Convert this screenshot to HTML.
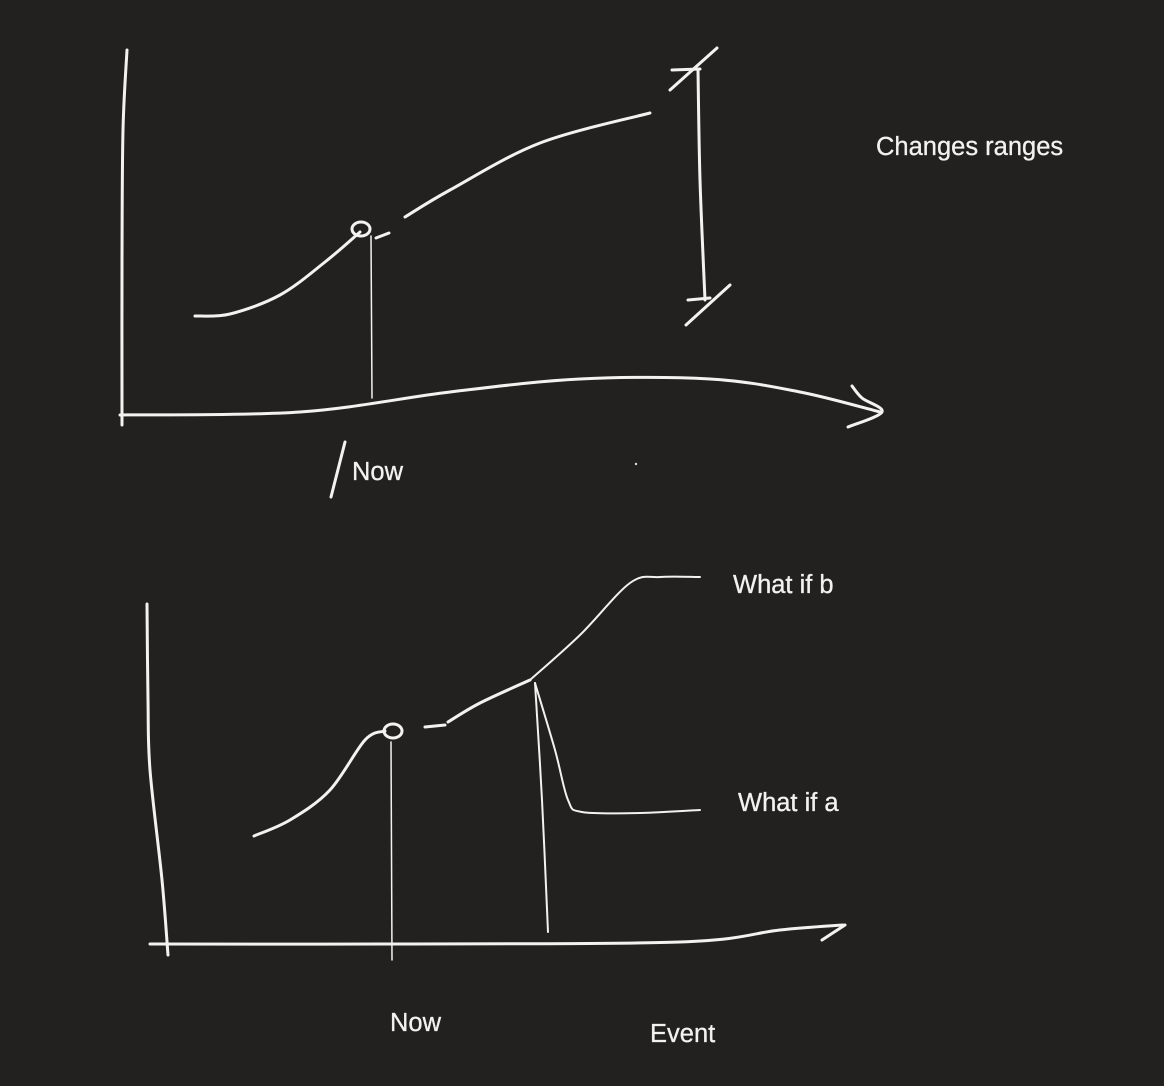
<!DOCTYPE html>
<html><head><meta charset="utf-8"><style>
html,body{margin:0;padding:0;background:#222120;}
svg{display:block;}
text{font-family:"Liberation Sans",sans-serif;font-size:25.5px;fill:#f2f2f2;stroke:#f2f2f2;stroke-width:0.3;}
</style></head><body>
<svg id="s" width="1164" height="1086" viewBox="0 0 1164 1086">
<rect width="1164" height="1086" fill="#222120"/>
<g id="g" fill="none" stroke="#f2f2f2" stroke-width="3" stroke-linecap="round" stroke-linejoin="round"></g>
<text x="876" y="155">Changes ranges</text>
<text x="352" y="480">Now</text>
<text x="733" y="593">What if b</text>
<text x="738" y="811">What if a</text>
<text x="390" y="1031">Now</text>
<text x="650" y="1042">Event</text>
<circle cx="636" cy="464" r="1.2" fill="#ddd"/>
</svg>
<script>
const topYAxis=[[127,50],[123,130],[122,260],[122,425]];
const topXAxis=[[120,415],[300,412],[450,392],[580,379],[710,379],[800,392],[880,412]];
const topArrow=[[852,386],[862,398],[882,412],[848,427]];
const topCurvePast=[[195,316],[230,314],[280,295],[325,262],[360,232]];
const topCurveFuture=[[405,217],[450,190],[540,143],[650,113]];
const topDash=[[376,238],[389,233]];
const topNowLine=[[371,236],[372,398]];
const errBar=[[698,70],[700,180],[705,300]];
const errTopSlash=[[670,90],[717,48]];
const errTopCap=[[672,70],[700,69]];
const errBotSlash=[[686,325],[730,285]];
const errBotCap=[[688,300],[710,298]];
const nowTick=[[331,497],[345,442]];
const botYAxis=[[147,604],[148,700],[150,770],[162,880],[168,955]];
const botXAxis=[[150,944],[390,944],[680,942],[780,930],[843,925]];
const botArrow=[[822,940],[845,925]];
const botCurvePast=[[254,836],[290,820],[330,790],[365,740],[385,731]];
const botDash=[[425,727],[445,725]];
const botCurveMid=[[448,722],[480,703],[530,680]];
const branchB=[[530,680],[580,635],[630,583],[660,577],[700,577]];
const branchA=[[535,683],[555,750],[568,800],[582,812],[640,813],[700,810]];
const eventLine=[[535,683],[542,800],[548,932]];
const botNowLine=[[391,742],[392,960]];

const g=document.getElementById('g');
function path(pts){
  let d='M'+pts[0][0]+','+pts[0][1];
  for(let i=1;i<pts.length;i++){
    const p0=pts[i-1],p1=pts[i];
    const pm=pts[i-2]||p0,pn=pts[i+1]||p1;
    const c1=[p0[0]+(p1[0]-pm[0])/6,p0[1]+(p1[1]-pm[1])/6];
    const c2=[p1[0]-(pn[0]-p0[0])/6,p1[1]-(pn[1]-p0[1])/6];
    d+=' C'+c1.join(',')+' '+c2.join(',')+' '+p1.join(',');
  }
  return d;
}
function draw(pts,name,w){
  const p=document.createElementNS('http://www.w3.org/2000/svg','path');
  p.setAttribute('d',path(pts));
  if(w)p.setAttribute('stroke-width',w);
  
  
  g.appendChild(p);
}
draw(topYAxis,'top-y-axis');
draw(topXAxis,'top-x-axis');
draw(topArrow,'top-x-arrow');
draw(topCurvePast,'top-curve-past');
draw(topDash,'top-curve-dash');
draw(topCurveFuture,'top-curve-future');
draw(topNowLine,'top-now-line',1.5);
draw(errBar,'range-bar');
draw(errTopSlash,'range-top-slash');
draw(errTopCap,'range-top-cap');
draw(errBotSlash,'range-bottom-slash');
draw(errBotCap,'range-bottom-cap');
draw(nowTick,'now-tick');
draw(botYAxis,'bottom-y-axis');
draw(botXAxis,'bottom-x-axis');
draw(botArrow,'bottom-x-arrow');
draw(botCurvePast,'bottom-curve-past');
draw(botDash,'bottom-curve-dash');
draw(botCurveMid,'bottom-curve-mid');
draw(branchB,'branch-what-if-b',2);
draw(branchA,'branch-what-if-a',2);
draw(eventLine,'event-line',2);
draw(botNowLine,'bottom-now-line',1.5);
function blob(cx,cy,name){
  const e=document.createElementNS('http://www.w3.org/2000/svg','ellipse');
  e.setAttribute('cx',cx);e.setAttribute('cy',cy);e.setAttribute('rx',9);e.setAttribute('ry',7);
  
  
  g.appendChild(e);
}
blob(361,229,'top-now-marker');
blob(393,731,'bottom-now-marker');
</script>
</body></html>
